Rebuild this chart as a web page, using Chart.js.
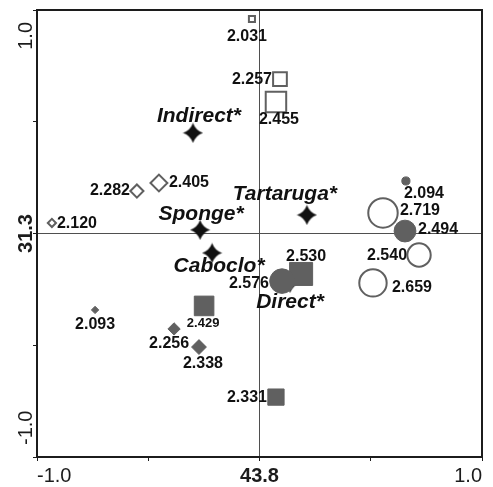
<!DOCTYPE html>
<html>
<head>
<meta charset="utf-8">
<script src="https://cdn.jsdelivr.net/npm/chart.js@4/dist/chart.umd.min.js"></script>
<style>
  html, body { margin: 0; padding: 0; background: #fff; }
  #wrap { width: 493px; height: 487px; }
</style>
</head>
<body>
<div id="wrap"><canvas id="chart"></canvas></div>
<script>
// values
var openSquareVals = [2.031, 2.257, 2.455];
var openSquareX = [-0.034, 0.092, 0.074];
var openSquareY = [0.960, 0.691, 0.588];

var openDiamondVals = [2.120, 2.282, 2.405];
var openDiamondX = [-0.933, -0.551, -0.452];
var openDiamondY = [0.047, 0.190, 0.226];

var filledDiamondVals = [2.093, 2.256, 2.338];
var filledDiamondX = [-0.739, -0.384, -0.272];
var filledDiamondY = [-0.342, -0.427, -0.508];

var filledSquareVals = [2.429, 2.530, 2.331];
var filledSquareX = [-0.249, 0.187, 0.074];
var filledSquareY = [-0.324, -0.181, -0.732];

var filledCircleVals = [2.094, 2.494, 2.576];
var filledCircleX = [0.658, 0.654, 0.101];
var filledCircleY = [0.235, 0.011, -0.213];

var openCircleVals = [2.719, 2.540, 2.659];
var openCircleX = [0.555, 0.717, 0.510];
var openCircleY = [0.092, -0.096, -0.221];

var starNames = ['Indirect*', 'Sponge*', 'Tartaruga*', 'Caboclo*', 'Direct*'];
var starX = [-0.299, -0.267, 0.213, -0.213, 0.137];
var starY = [0.450, 0.016, 0.083, -0.087, -0.221];

var xTickVals = [-1, 0, 1];
var xTickLabels = ['-1.0', '43.8', '1.0'];
var yTickVals = [-1, 0, 1];
var yTickLabels = ['-1.0', '31.3', '1.0'];

// label placement (pixel offset of label centre from the marker)
var openSquareOff = [[-5, 18], [-28, 1], [3, 18]];
var openDiamondOff = [[25, 1], [-27, 0], [30, 0]];
var filledDiamondOff = [[0, 15], [-5, 15], [4, 17]];
var filledSquareOff = [[-1, 18], [5, -17], [-29, 0]];
var filledCircleOff = [[18, 13], [33, -1], [-33, 2]];
var openCircleOff = [[37, -2], [-32, 1], [39, 5]];
var starOff = [[6, -17], [1, -16], [-22, -21], [7, 13], [0, 19]];

var FONT = '"Liberation Sans", Arial, sans-serif';
var GREY = '#606060';
var INK = '#1c1c1c';

function pts(xs, ys) {
  return xs.map(function (x, i) { return { x: x, y: ys[i] }; });
}

// marker extent grows with the value printed next to it
function extent(v) { return 5 + 34 * (v - 2); }
function squareR(vals) { return function (c) { return extent(vals[c.dataIndex]) / Math.SQRT2; }; }
function circleR(vals) { return function (c) { return extent(vals[c.dataIndex]) / 2; }; }
function diamondR(vals) { return function (c) { return extent(vals[c.dataIndex]) * 0.9 / 2; }; }

function makeStar(size, color) {
  var c = document.createElement('canvas');
  c.width = size; c.height = size;
  var g = c.getContext('2d');
  var m = size / 2, r = m - 0.5, k = r * 0.26;
  g.fillStyle = color;
  g.beginPath();
  g.moveTo(m, m - r);
  g.quadraticCurveTo(m + k, m - k, m + r, m);
  g.quadraticCurveTo(m + k, m + k, m, m + r);
  g.quadraticCurveTo(m - k, m + k, m - r, m);
  g.quadraticCurveTo(m - k, m - k, m, m - r);
  g.fill();
  return c;
}

function numLabels(vals) { return vals.map(function (v) { return v.toFixed(3); }); }

var numFont = 'bold 16px ' + FONT;
var starFont = 'italic bold 21px ' + FONT;

var datasets = [
  {
    data: pts(filledCircleX, filledCircleY), pointStyle: 'circle',
    radius: circleR(filledCircleVals), backgroundColor: GREY, borderColor: GREY, borderWidth: 1,
    labelText: numLabels(filledCircleVals), labelOff: filledCircleOff
  },
  {
    data: pts(filledSquareX, filledSquareY), pointStyle: 'rect',
    radius: squareR(filledSquareVals), backgroundColor: GREY, borderColor: GREY, borderWidth: 1,
    labelText: numLabels(filledSquareVals), labelOff: filledSquareOff,
    labelFonts: ['bold 13px ' + FONT, numFont, numFont]
  },
  {
    data: pts(openCircleX, openCircleY), pointStyle: 'circle',
    radius: circleR(openCircleVals), backgroundColor: '#fff', borderColor: GREY, borderWidth: 2,
    labelText: numLabels(openCircleVals), labelOff: openCircleOff
  },
  {
    data: pts(openSquareX, openSquareY), pointStyle: 'rect',
    radius: squareR(openSquareVals), backgroundColor: '#fff', borderColor: GREY, borderWidth: 2,
    labelText: numLabels(openSquareVals), labelOff: openSquareOff
  },
  {
    data: pts(openDiamondX, openDiamondY), pointStyle: 'rectRot',
    radius: diamondR(openDiamondVals), backgroundColor: '#fff', borderColor: GREY, borderWidth: 2,
    labelText: numLabels(openDiamondVals), labelOff: openDiamondOff
  },
  {
    data: pts(filledDiamondX, filledDiamondY), pointStyle: 'rectRot',
    radius: diamondR(filledDiamondVals), backgroundColor: GREY, borderColor: GREY, borderWidth: 1,
    labelText: numLabels(filledDiamondVals), labelOff: filledDiamondOff
  },
  {
    data: pts(starX, starY), pointStyle: makeStar(21, '#111'),
    radius: 10, backgroundColor: '#111', borderColor: '#111',
    labelText: starNames, labelOff: starOff, labelFont: starFont
  }
];

var framePlugin = {
  id: 'frame',
  beforeDatasetsDraw: function (chart) {
    var a = chart.chartArea, ctx = chart.ctx;
    ctx.save();
    ctx.strokeStyle = INK;
    ctx.lineWidth = 2;
    ctx.strokeRect(a.left, a.top, a.right - a.left, a.bottom - a.top);
    ctx.restore();
  }
};

var pointLabelPlugin = {
  id: 'pointLabels',
  afterDatasetsDraw: function (chart) {
    var ctx = chart.ctx;
    chart.data.datasets.forEach(function (ds, di) {
      var meta = chart.getDatasetMeta(di);
      meta.data.forEach(function (el, i) {
        var off = ds.labelOff[i];
        ctx.save();
        ctx.font = ds.labelFonts ? ds.labelFonts[i] : (ds.labelFont || numFont);
        ctx.fillStyle = '#111';
        ctx.textAlign = 'center';
        ctx.textBaseline = 'middle';
        ctx.fillText(ds.labelText[i], el.x + off[0], el.y + off[1]);
        ctx.restore();
      });
    });
  }
};

// y tick labels are rotated and pulled inside at both ends
var yLabelPlugin = {
  id: 'yLabels',
  afterDraw: function (chart) {
    var sc = chart.scales.y, ctx = chart.ctx;
    yTickVals.forEach(function (v, i) {
      var py = sc.getPixelForValue(v), align = 'center';
      if (i === 0) { py -= 12; align = 'left'; }
      if (i === yTickVals.length - 1) { py += 12; align = 'right'; }
      ctx.save();
      ctx.translate(sc.right - 5, py);
      ctx.rotate(-Math.PI / 2);
      ctx.font = (v === 0 ? 'bold ' : '') + '20px ' + FONT;
      ctx.fillStyle = INK;
      ctx.textAlign = align;
      ctx.textBaseline = 'alphabetic';
      ctx.fillText(yTickLabels[i], 0, 0);
      ctx.restore();
    });
  }
};

function zeroLine(c) {
  return c.tick && c.tick.value === 0 ? '#4f4f4f' : 'rgba(0,0,0,0)';
}

new Chart(document.getElementById('chart'), {
  type: 'scatter',
  data: { datasets: datasets },
  options: {
    responsive: true,
    maintainAspectRatio: false,
    animation: false,
    events: [],
    layout: { autoPadding: false, padding: { top: 10, right: 11, left: 0, bottom: 0 } },
    plugins: { legend: { display: false }, tooltip: { enabled: false } },
    scales: {
      x: {
        type: 'linear', min: -1, max: 1,
        border: { display: false },
        grid: { color: zeroLine, tickColor: INK, tickLength: 4, lineWidth: 1 },
        ticks: {
          stepSize: 0.5, autoSkip: false, maxRotation: 0, align: 'inner', padding: 3,
          color: INK,
          font: function (c) {
            return { family: FONT, size: 20, weight: c.tick && c.tick.value === 0 ? 'bold' : 'normal' };
          },
          callback: function (v) {
            var i = xTickVals.indexOf(v);
            return i < 0 ? '' : xTickLabels[i];
          }
        },
        afterFit: function (s) { s.height = 30; }
      },
      y: {
        type: 'linear', min: -1, max: 1,
        border: { display: false },
        grid: { color: zeroLine, tickColor: INK, tickLength: 4, lineWidth: 1 },
        ticks: { stepSize: 0.5, display: false },
        afterFit: function (s) { s.width = 37; }
      }
    }
  },
  plugins: [framePlugin, pointLabelPlugin, yLabelPlugin]
});
</script>
</body>
</html>
